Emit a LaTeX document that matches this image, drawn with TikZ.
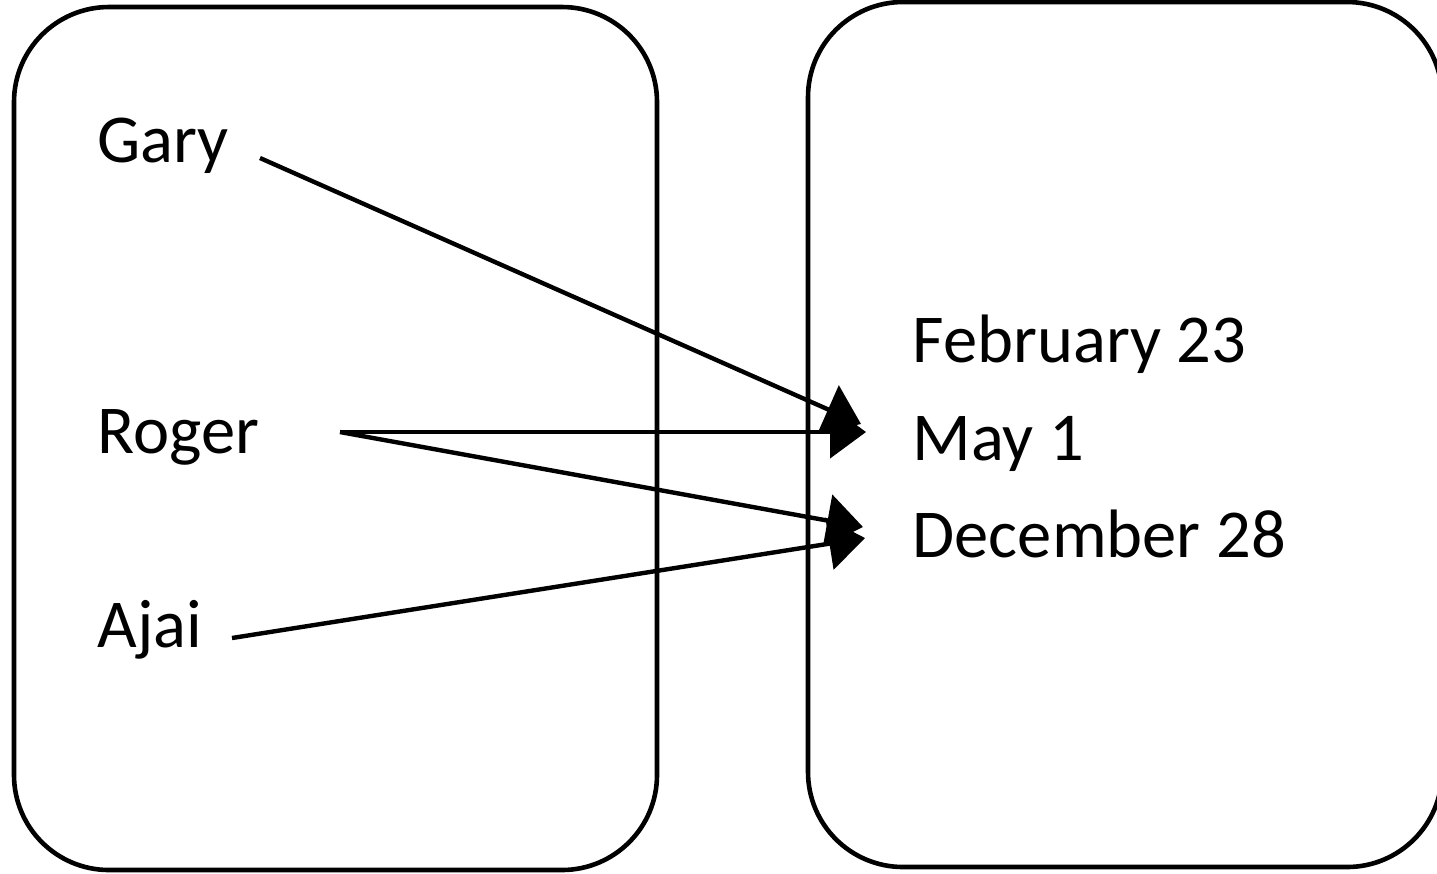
\documentclass[tikz,border=0pt]{standalone}
\usepackage{fontspec}
\setmainfont{Carlito}
\usetikzlibrary{arrows.meta}
\begin{document}
\begin{tikzpicture}[x=0.1mm,y=-0.1mm,
  setbox/.style={draw=black,line width=0.46mm,rounded corners=9.5mm},
  lbl/.style={inner sep=0pt,anchor=base west,font=\fontsize{19.5pt}{23pt}\selectfont},
  maparrow/.style={line width=0.44mm,-{Triangle[length=3.6mm,width=5.2mm]}}]
\useasboundingbox (0,0) rectangle (1437,873);
\clip (0,0) rectangle (1437,873);
\fill[white] (0,0) rectangle (1437,873);
% sets
\node[setbox,minimum width=64.3mm,minimum height=86.3mm,inner sep=0pt] (domain) at (335.5,438.5) {};
\node[setbox,minimum width=63.4mm,minimum height=86.5mm,inner sep=0pt] (codomain) at (1125,434.5) {};
% labels
\node[lbl] (gary) at (97,162.5) {Gary};
\node[lbl] (roger) at (97,453) {Roger};
\node[lbl] (ajai) at (97,647) {Ajai};
\node[lbl] (feb) at (912,362) {February 23};
\node[lbl] (may) at (912,460) {May 1};
\node[lbl] (dec) at (912,557) {December 28};
% connector ends
\coordinate (garyout) at (260,158);
\coordinate (rogerout) at (340,432);
\coordinate (ajaiout) at (232,638);
\coordinate (mayinA) at (861,424);
\coordinate (mayinB) at (866,432);
\coordinate (decinA) at (863,527);
\coordinate (decinB) at (865,538);
% arrows
\draw[maparrow] (garyout) -- (mayinA);
\draw[maparrow] (rogerout) -- (mayinB);
\draw[maparrow] (rogerout) -- (decinA);
\draw[maparrow] (ajaiout) -- (decinB);
\end{tikzpicture}
\end{document}
